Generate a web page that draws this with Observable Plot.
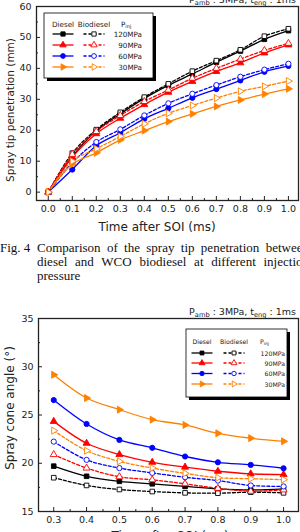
<!DOCTYPE html>
<html>
<head>
<meta charset="utf-8">
<script src="https://cdn.jsdelivr.net/npm/d3@7"></script>
<script src="https://cdn.jsdelivr.net/npm/@observablehq/plot@0.6"></script>
<style>
  html, body { margin: 0; padding: 0; background: #fff; }
  #page { position: relative; width: 300px; height: 532px; overflow: hidden; background: #fff; }
  #tip, #cone, #overlay { position: absolute; left: 0; }
  #tip { top: 0; }
  #cone { top: 300px; }
  #overlay { top: 0; pointer-events: none; }
  #caption {
    position: absolute; left: 0; top: 241px; width: 272px; padding-left: 37px;
    text-indent: -37px; font-family: "Liberation Serif", serif; font-size: 13px;
    line-height: 14px; text-align: justify; color: #111; white-space: normal;
  }
  #caption .lab { display: inline-block; width: 37px; text-indent: 0; }
</style>
</head>
<body>
<div id="page">
  <div id="tip"></div>
  <div id="caption"><span class="lab">Fig. 4</span>Comparison of the spray tip penetration between diesel and WCO biodiesel at different injection pressure</div>
  <div id="cone"></div>
  <svg id="overlay" width="300" height="532"></svg>
</div>
<script>
// Injection pressures, colours and fuels
const pinj = ["120MPa", "90MPa", "60MPa", "30MPa"];
const colors = ["#000000", "#ff0000", "#0000ff", "#ff8000"];

// Spray tip penetration (mm) vs time after SOI (ms)
const tipTime = [0, 0.1, 0.2, 0.3, 0.4, 0.5, 0.6, 0.7, 0.8, 0.9, 1.0];
const tipDiesel120 = [0, 11.5, 19.8, 25.3, 30.3, 34.5, 38.2, 42.0, 45.6, 49.4, 52.2];
const tipBio120    = [0, 12.6, 20.2, 25.8, 30.7, 35.0, 39.1, 42.5, 46.0, 50.4, 52.8];
const tipDiesel90  = [0, 11.3, 18.9, 23.9, 28.3, 32.3, 35.8, 39.0, 41.8, 45.0, 47.6];
const tipBio90     = [0, 12.2, 19.6, 24.8, 29.3, 33.0, 36.8, 40.0, 43.0, 45.8, 48.1];
const tipDiesel60  = [0, 7.3, 15.0, 19.2, 23.7, 27.1, 30.5, 33.3, 36.1, 38.9, 40.8];
const tipBio60     = [0, 9.5, 16.2, 20.3, 24.8, 28.7, 31.8, 34.6, 37.3, 39.6, 41.5];
const tipDiesel30  = [0, 9.0, 12.7, 16.9, 19.9, 22.8, 25.3, 27.7, 29.8, 31.7, 33.4];
const tipBio30     = [0, 10.0, 14.0, 18.0, 22.1, 25.5, 28.0, 30.4, 32.6, 34.2, 35.9];

// Spray cone angle (deg) vs time after SOI (ms)
const coneTime = [0.3, 0.4, 0.5, 0.6, 0.7, 0.8, 0.9, 1.0];
const coneDiesel120 = [19.7, 18.65, 18.13, 17.87, 17.6, 17.35, 17.24, 17.35];
const coneBio120    = [18.5, 17.7, 17.28, 17.07, 16.93, 16.9, 17.0, 16.93];
const coneDiesel90  = [24.34, 22.07, 20.9, 20.1, 19.6, 19.17, 18.9, 18.83];
const coneBio90     = [20.9, 19.5, 18.6, 18.28, 17.87, 17.4, 17.1, 17.24];
const coneDiesel60  = [26.55, 24.07, 22.42, 21.6, 20.7, 20.1, 19.83, 19.48];
const coneBio60     = [22.24, 20.35, 19.5, 19.0, 18.55, 18.2, 17.7, 17.6];
const coneDiesel30  = [29.17, 26.76, 25.55, 24.52, 23.97, 23.1, 22.6, 22.27];
const coneBio30     = [23.38, 21.3, 20.2, 19.5, 18.96, 18.5, 18.4, 18.3];

// Axis tick values
const tipXMajor = [0, 0.1, 0.2, 0.3, 0.4, 0.5, 0.6, 0.7, 0.8, 0.9, 1.0];
const tipXMinor = [0.05, 0.15, 0.25, 0.35, 0.45, 0.55, 0.65, 0.75, 0.85, 0.95];
const tipYMajor = [0, 10, 20, 30, 40, 50, 60];
const tipYMinor = [5, 15, 25, 35, 45, 55];
const coneXMajor = [0.3, 0.4, 0.5, 0.6, 0.7, 0.8, 0.9, 1.0];
const coneXMinor = [0.35, 0.45, 0.55, 0.65, 0.75, 0.85, 0.95];
const coneYMajor = [15, 20, 25, 30, 35];
const coneYMinor = [17.5, 22.5, 27.5, 32.5];

// Right-pointing triangle marker
const triangleRight = {
  draw(ctx, size) {
    const y = -Math.sqrt(size / (Math.sqrt(3) * 3));
    const s = Math.sqrt(3);
    ctx.moveTo(-2 * y, 0);
    ctx.lineTo(y, s * y);
    ctx.lineTo(y, -s * y);
    ctx.closePath();
  }
};
const symbols = [d3.symbolSquare, d3.symbolTriangle, d3.symbolCircle, triangleRight];

function seriesList(time, diesel, bio) {
  const out = [];
  pinj.forEach((p, i) => {
    out.push({time, values: diesel[i], color: colors[i], symbol: symbols[i], bio: false});
    out.push({time, values: bio[i], color: colors[i], symbol: symbols[i], bio: true});
  });
  return out;
}

function chart({series, xDomain, yDomain, xMajor, xMinor, yMajor, yMinor, width, height, mt, mr, mb, ml, r}) {
  const fw = width - ml - mr, fh = height - mt - mb;
  const marks = [
    Plot.tickX(xMajor, {x: d => d, insetTop: fh - 4, stroke: "#222", strokeWidth: 1}),
    Plot.tickX(xMinor, {x: d => d, insetTop: fh - 2, stroke: "#222", strokeWidth: 1}),
    Plot.tickY(yMajor, {y: d => d, insetRight: fw - 4, stroke: "#222", strokeWidth: 1}),
    Plot.tickY(yMinor, {y: d => d, insetRight: fw - 2, stroke: "#222", strokeWidth: 1}),
    Plot.axisX({ticks: xMajor, tickSize: 0, tickPadding: 5, tickFormat: d3.format(".1f"), label: null, fill: "#222"}),
    Plot.axisY({ticks: yMajor, tickSize: 0, tickPadding: 5, label: null, fill: "#222"})
  ];
  series.forEach(s => {
    const rows = s.time.map((t, i) => ({t, v: s.values[i]}));
    marks.push(Plot.line(rows, {
      x: "t", y: "v", stroke: s.color, strokeWidth: 1.3, curve: "catmull-rom",
      strokeDasharray: s.bio ? "3,2" : null
    }));
  });
  series.forEach(s => {
    const rows = s.time.map((t, i) => ({t, v: s.values[i]}));
    marks.push(Plot.dot(rows, {
      x: "t", y: "v", symbol: s.symbol, r,
      fill: s.bio ? "white" : s.color, stroke: s.color, strokeWidth: 0.9
    }));
  });
  marks.push(Plot.frame({stroke: "#222", strokeWidth: 1.3}));
  return Plot.plot({
    width, height, marginTop: mt, marginRight: mr, marginBottom: mb, marginLeft: ml,
    style: {fontFamily: "DejaVu Sans", fontSize: "9.5px", background: "transparent", overflow: "visible"},
    x: {domain: xDomain}, y: {domain: yDomain},
    marks
  });
}

document.getElementById("tip").append(chart({
  series: seriesList(tipTime,
    [tipDiesel120, tipDiesel90, tipDiesel60, tipDiesel30],
    [tipBio120, tipBio90, tipBio60, tipBio30]),
  xDomain: [-0.049, 1.042], yDomain: [-2.7, 60],
  xMajor: tipXMajor, xMinor: tipXMinor, yMajor: tipYMajor, yMinor: tipYMinor,
  width: 300, height: 235, mt: 6, mr: 2, mb: 35, ml: 36, r: 2.6
}));

document.getElementById("cone").append(chart({
  series: seriesList(coneTime,
    [coneDiesel120, coneDiesel90, coneDiesel60, coneDiesel30],
    [coneBio120, coneBio90, coneBio60, coneBio30]),
  xDomain: [0.2536, 1.0455], yDomain: [15, 35],
  xMajor: coneXMajor, xMinor: coneXMinor, yMajor: coneYMajor, yMinor: coneYMinor,
  width: 300, height: 232, mt: 18, mr: 2, mb: 21, ml: 38, r: 2.6
}));

// Titles, condition headers and legends
const svg = d3.select("#overlay");
const font = "DejaVu Sans";

function header(x, y, size) {
  const t = svg.append("text").attr("x", x).attr("y", y).attr("text-anchor", "end")
    .attr("font-family", font).attr("font-size", size).attr("fill", "#222");
  t.append("tspan").text("P");
  t.append("tspan").attr("font-size", size * 0.7).attr("dy", 1.5).text("amb");
  t.append("tspan").attr("dy", -1.5).text(" : 3MPa, t");
  t.append("tspan").attr("font-size", size * 0.7).attr("dy", 1.5).text("eng");
  t.append("tspan").attr("dy", -1.5).text(" : 1ms");
}
header(296, 3, 9.5);
header(296, 315, 9.5);

function title(text, x, y, size, rotate) {
  svg.append("text").attr("transform", `translate(${x},${y})` + (rotate ? " rotate(-90)" : ""))
    .attr("text-anchor", "middle").attr("dominant-baseline", "central")
    .attr("font-family", font).attr("font-size", size).attr("fill", "#222").text(text);
}
title("Spray tip penetration (mm)", 10, 110, 10.5, true);
title("Time after SOI (ms)", 157, 227, 12, false);
title("Spray cone angle (\u00b0)", 10, 408, 12, true);
title("Time after SOI (ms)", 170, 536, 12, false);

function legend({x0, y0, w, h, dieselX, bioX, pX, labelX, lineHalf, headY, rows, size, r}) {
  const g = svg.append("g");
  g.append("rect").attr("x", x0 + 3).attr("y", y0 + 3).attr("width", w).attr("height", h).attr("fill", "#000");
  g.append("rect").attr("x", x0).attr("y", y0).attr("width", w).attr("height", h)
    .attr("fill", "#fff").attr("stroke", "#000").attr("stroke-width", 0.8);
  const txt = (x, y, anchor) => g.append("text").attr("x", x).attr("y", y).attr("text-anchor", anchor)
    .attr("dominant-baseline", "central").attr("font-family", font).attr("font-size", size).attr("fill", "#222");
  txt(dieselX, headY, "middle").text("Diesel");
  txt(bioX, headY, "middle").text("Biodiesel");
  const pt = txt(pX, headY, "start");
  pt.append("tspan").text("P");
  pt.append("tspan").attr("font-size", size * 0.7).attr("dy", 1.5).text("inj");
  pinj.forEach((p, i) => {
    const y = rows[i];
    g.append("line").attr("x1", dieselX - lineHalf).attr("x2", dieselX + lineHalf).attr("y1", y).attr("y2", y)
      .attr("stroke", colors[i]).attr("stroke-width", 1.3);
    g.append("line").attr("x1", bioX - lineHalf).attr("x2", bioX + lineHalf).attr("y1", y).attr("y2", y)
      .attr("stroke", colors[i]).attr("stroke-width", 1.3).attr("stroke-dasharray", "3,2");
    const sym = d3.symbol(symbols[i], Math.PI * r * r);
    g.append("path").attr("d", sym()).attr("transform", `translate(${dieselX},${y})`)
      .attr("fill", colors[i]).attr("stroke", colors[i]).attr("stroke-width", 0.9);
    g.append("path").attr("d", sym()).attr("transform", `translate(${bioX},${y})`)
      .attr("fill", "#fff").attr("stroke", colors[i]).attr("stroke-width", 0.9);
    txt(labelX, y, "end").text(p);
  });
}
legend({x0: 44, y0: 13, w: 109, h: 65, dieselX: 63, bioX: 94, pX: 121, labelX: 142, lineHalf: 10.5,
  headY: 24, rows: [34, 45, 56, 67], size: 7.2, r: 2.4});
legend({x0: 186, y0: 329, w: 101, h: 68, dieselX: 202, bioX: 234, pX: 260, labelX: 285, lineHalf: 10.5,
  headY: 341, rows: [353, 363, 373.5, 384], size: 6.2, r: 2.2});
</script>
</body>
</html>
